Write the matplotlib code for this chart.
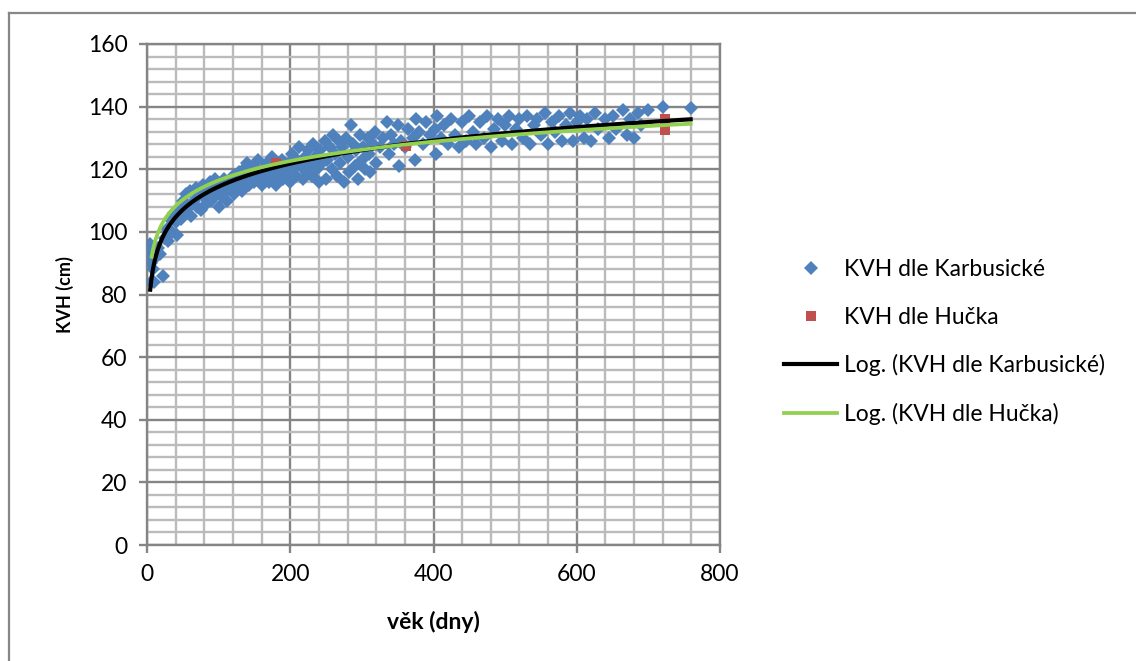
import numpy as np
import matplotlib.pyplot as plt
from matplotlib.lines import Line2D

# ============================================================================================
# DADOS
# ============================================================================================

# KVH dle Karbusické: věk [dny] a KVH [cm]
vek_karb = [3, 4, 5, 6, 8, 10, 12, 15, 18, 22, 25, 28, 30, 32, 35, 38, 40, 42, 45, 48,
            50, 52, 55, 58, 60, 62, 65, 68, 70, 72, 75, 78, 80, 82, 85, 88, 90, 92, 95, 98,
            100, 102, 105, 108, 110, 112, 115, 118, 120, 122, 125, 128, 130, 132, 135, 138,
            140, 142, 145, 148, 150, 152, 155, 158, 160, 162, 165, 168, 170, 172, 175, 178,
            180, 182, 185, 188, 190, 192, 195, 198, 200, 202, 205, 208, 210, 212, 215, 218,
            220, 222, 225, 228, 230, 232, 235, 238, 240, 242, 245, 248, 250, 252, 255, 258,
            260, 262, 265, 268, 270, 272, 275, 278, 280, 282, 285, 288, 290, 292, 295, 298,
            300, 302, 305, 308, 310, 312, 315, 318, 320, 325, 330, 335, 338, 340, 345, 350,
            352, 355, 360, 365, 372, 374, 375, 380, 385, 390, 395, 404, 402, 405, 410, 415,
            420, 425, 430, 435, 440, 445, 450, 455, 460, 465, 470, 475, 480, 485, 490, 495,
            500, 505, 510, 515, 520, 525, 530, 535, 540, 545, 550, 555, 560, 565, 570, 575,
            580, 585, 590, 595, 600, 605, 610, 615, 620, 625, 630, 640, 645, 650, 655, 665,
            670, 675, 680, 685, 690, 700, 720, 759]
kvh_karb = [93, 96, 90, 84, 88, 84, 92, 95, 93, 86, 98, 101, 97, 104, 100, 106, 103, 99, 107, 104,
            110, 106, 112, 108, 113, 105, 110, 114, 108, 112, 107, 115, 111, 109, 113, 116, 110, 114, 117, 112,
            108, 115, 111, 117, 113, 110, 116, 113, 118, 112, 115, 119, 116, 113, 120, 117,
            122, 115, 118, 121, 116, 119, 123, 117, 115, 120, 118, 122, 116, 119, 124, 118,
            115, 121, 119, 123, 117, 120, 118, 122, 116, 125, 120, 118, 123, 127, 121, 117,
            124, 119, 126, 122, 118, 128, 124, 120, 116, 126, 122, 129, 117, 123, 127, 120,
            131, 125, 118, 129, 122, 127, 116, 130, 124, 119, 134, 128, 121, 126, 117, 131,
            123, 127, 120, 130, 125, 119, 128, 132, 122, 127, 130, 135, 125, 131, 128, 134,
            121, 129, 127, 133, 130, 123, 136, 132, 128, 135, 131, 125, 133, 137, 130, 134,
            128, 136, 131, 127, 135, 129, 137, 132, 128, 135, 130, 137, 127, 133, 136, 129,
            134, 137, 128, 133, 136, 130, 137, 128, 134, 136, 131, 138, 128, 135, 132, 137,
            129, 134, 138, 129, 135, 137, 130, 136, 129, 138, 133, 136, 130, 137, 133, 139,
            131, 136, 130, 138, 134, 139, 140, 139.5]

# KVH dle Hučka
vek_hucka = [180, 362, 723, 723]
kvh_hucka = [122, 127.3, 132.5, 136]

# rozsah spojnic trendu
trend_start_karb = 4.5
trend_start_hucka = 6.5
trend_end = max(vek_karb)

# ============================================================================================
# LOGARITMICKÉ SPOJNICE TRENDU (y = a ln x + b)
# ============================================================================================
a_k, b_k = np.polyfit(np.log(vek_karb), kvh_karb, 1)
a_h, b_h = np.polyfit(np.log(vek_hucka), kvh_hucka, 1)

x_k = np.linspace(trend_start_karb, trend_end, 500)
x_h = np.linspace(trend_start_hucka, trend_end, 500)

# ============================================================================================
# GRAF
# ============================================================================================
plt.rcParams['font.family'] = ['Lato', 'DejaVu Sans']

fig = plt.figure(figsize=(11.36, 6.61), dpi=100)
ax = fig.add_axes([147 / 1136, 116 / 661, 573 / 1136, 501 / 661])

ax.plot(vek_karb, kvh_karb, 'D', color='#4F81BD', markersize=7.6, markeredgewidth=0,
        label='KVH dle Karbusické', zorder=3)
ax.plot(vek_hucka, kvh_hucka, 's', color='#C0504D', markersize=7.5, markeredgewidth=0,
        label='KVH dle Hučka', zorder=4)
ax.plot(x_k, a_k * np.log(x_k) + b_k, color='black', lw=3,
        label='Log. (KVH dle Karbusické)', zorder=5)
ax.plot(x_h, a_h * np.log(x_h) + b_h, color='#92D050', lw=2.7,
        label='Log. (KVH dle Hučka)', zorder=6)

ax.set_xlim(0, 800)
ax.set_ylim(0, 160)
ax.set_xticks(np.arange(0, 801, 200))
ax.set_yticks(np.arange(0, 161, 20))
ax.set_xticks(np.arange(0, 801, 40), minor=True)
ax.set_yticks(np.arange(0, 161, 4), minor=True)
ax.grid(True, which='minor', color='#BBBBBB', lw=1.7, zorder=0)
ax.grid(True, which='major', color='#858585', lw=1.7, zorder=1)
ax.set_axisbelow(True)
ax.tick_params(which='minor', length=0)
ax.tick_params(which='major', length=6, width=1.7, color='#858585', direction='out',
               labelsize=16.5, pad=8)
for s in ax.spines.values():
    s.set_color('#858585')
    s.set_linewidth(1.7)

ax.set_xlabel('věk (dny)', fontsize=16.5, fontweight='bold', labelpad=18)
ax.set_ylabel('KVH (cm)', fontsize=13, fontweight='bold', labelpad=10)

# legenda
fig.legend(loc='center left', bbox_to_anchor=(775 / 1136, 1 - 342 / 661),
           frameon=False, fontsize=16.5, handlelength=2.3, handletextpad=0.3,
           labelspacing=1.15, borderaxespad=0)

# rámeček
fig.add_artist(Line2D([9 / 1136, 9 / 1136], [0, 1 - 13 / 661], color='#878787', lw=1.6,
                      transform=fig.transFigure))
fig.add_artist(Line2D([9 / 1136, 1], [1 - 13 / 661, 1 - 13 / 661], color='#878787', lw=1.6,
                      transform=fig.transFigure))

fig.savefig('out.png', dpi=100)
